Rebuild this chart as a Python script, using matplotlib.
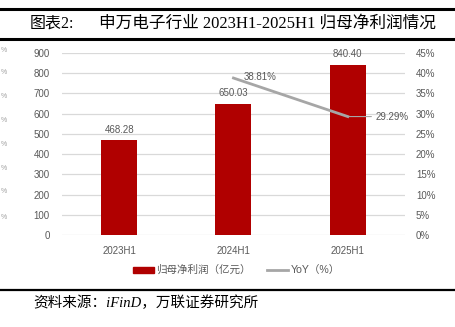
import matplotlib.pyplot as plt
from matplotlib.lines import Line2D
from matplotlib.patches import Patch

categories = ['2023H1', '2024H1', '2025H1']
profit = [468.28, 650.03, 840.40]          # 归母净利润（亿元）
yoy_cats = ['2024H1', '2025H1']
yoy = [38.81, 29.29]                       # YoY（%）
left_ticks = [0, 100, 200, 300, 400, 500, 600, 700, 800, 900]
right_ticks = [0, 5, 10, 15, 20, 25, 30, 35, 40, 45]

bar_color = '#B00000'
line_color = '#A6A6A6'
txt = '#595959'
cjk = ['Liberation Sans', 'Noto Sans CJK SC']
serif = ['Liberation Serif', 'Noto Sans CJK SC']

plt.rcParams['font.family'] = cjk

fig = plt.figure(figsize=(4.56, 3.27), dpi=100)
ax = fig.add_axes([0.136, 0.281, 0.752, 0.557])

x = list(range(len(categories)))
ax.bar(x, profit, width=0.315, color=bar_color, zorder=3)
for xi, v in zip(x, profit):
    ax.annotate(f'{v:.2f}', (xi, v), xytext=(0, 4), textcoords='offset points',
                ha='center', va='bottom', fontsize=7, color=txt)

ax.set_xlim(-0.5, 2.5)
ax.set_ylim(0, 900)
ax.set_yticks(left_ticks)
ax.set_xticks(x)
ax.set_xticklabels(categories)
ax.grid(axis='y', color='#D9D9D9', linewidth=0.9, zorder=0)
for s in ax.spines.values():
    s.set_visible(False)
ax.tick_params(length=0, labelsize=7, colors=txt)
ax.tick_params(axis='x', pad=8)
ax.tick_params(axis='y', pad=9)

ax2 = ax.twinx()
yx = [categories.index(c) for c in yoy_cats]
ax2.plot(yx, yoy, color=line_color, linewidth=2, zorder=4)
ax2.set_ylim(0, 45)
ax2.set_yticks(right_ticks)
ax2.set_yticklabels([f'{t}%' for t in right_ticks])
for s in ax2.spines.values():
    s.set_visible(False)
ax2.tick_params(length=0, labelsize=7, colors=txt, pad=8)

ax2.annotate(f'{yoy[0]:.2f}%', (yx[0], yoy[0]), xytext=(7, 1),
             textcoords='offset points', ha='left', va='center',
             fontsize=7, color=txt)
ax2.annotate(f'{yoy[1]:.2f}%', (yx[1], yoy[1]), xytext=(20, 0),
             textcoords='offset points', ha='left', va='center',
             fontsize=7, color=txt,
             arrowprops=dict(arrowstyle='-', color=line_color, lw=0.8,
                             shrinkA=1, shrinkB=0))

handles = [Patch(color=bar_color),
           Line2D([0], [0], color=line_color, linewidth=2)]
fig.legend(handles, ['归母净利润（亿元）', 'YoY（%）'], loc='center',
           bbox_to_anchor=(0.518, 0.174), ncol=2, frameon=False,
           fontsize=7.6, labelcolor=txt, handlelength=2.0,
           handleheight=0.5, handletextpad=0.2, columnspacing=1.6)

# header and footer rules
fig.add_artist(Line2D([0, 1], [0.971, 0.971], color='black', linewidth=2.2))
fig.add_artist(Line2D([0, 1], [0.882, 0.882], color='black', linewidth=2.2))
fig.add_artist(Line2D([0, 1], [0.113, 0.113], color='black', linewidth=1.6))

fig.text(0.066, 0.928, '图表2:', fontsize=11.5, va='center', family=serif)
fig.text(0.218, 0.928, '申万电子行业 2023H1-2025H1 归母净利润情况',
         fontsize=12, va='center', family=serif)
fig.text(0.072, 0.075, '资料来源：iFinD，万联证券研究所', fontsize=10.5,
         va='center', style='italic', family=serif)

# percent labels of the neighbouring chart at the left edge
for yy in [0.847, 0.777, 0.704, 0.633, 0.557, 0.486, 0.413, 0.336]:
    fig.text(0.001, yy, '%', fontsize=5, color='#A0A0A0', va='center')

fig.savefig('out.png', dpi=100)
